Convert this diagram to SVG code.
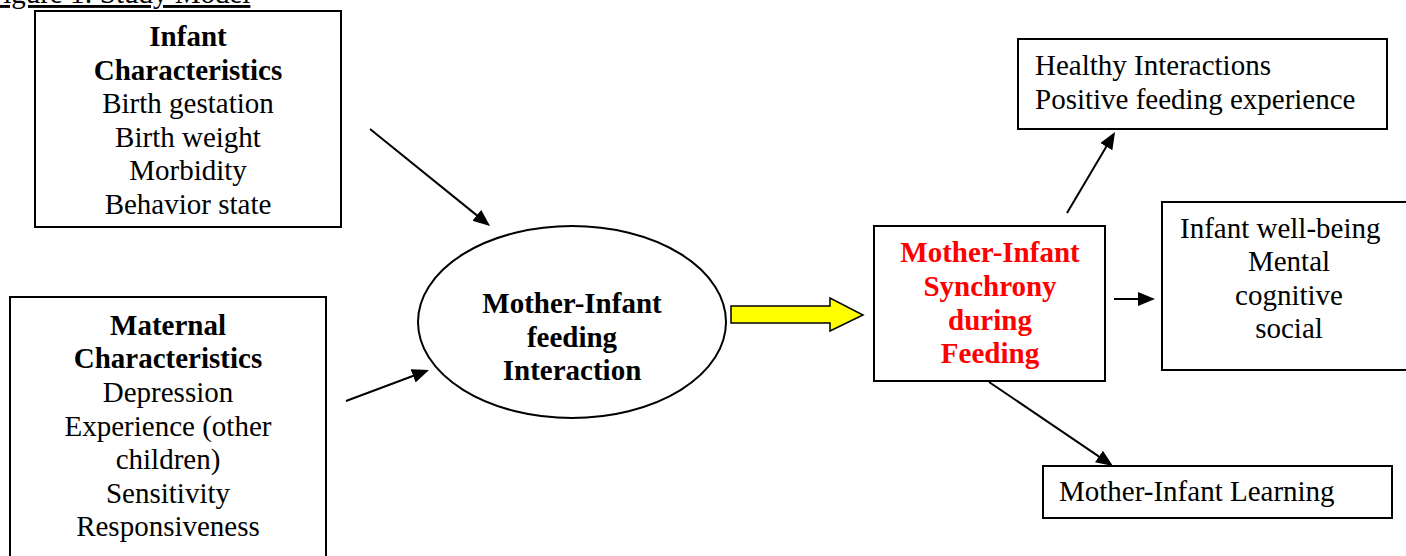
<svg xmlns="http://www.w3.org/2000/svg" width="1406" height="556" viewBox="0 0 1406 556">
<style>
.box{fill:#fff;stroke:#000;stroke-width:2}
.t{font-family:"Liberation Serif","Times New Roman",serif;font-size:29px;fill:#000}
.b{font-weight:bold}
.c{text-anchor:middle}
.red{fill:#ff0000}
.ln{stroke:#000;stroke-width:2;fill:none;marker-end:url(#ah)}
</style>
<defs>
<marker id="ah" markerUnits="userSpaceOnUse" markerWidth="18" markerHeight="15" refX="14" refY="7" orient="auto">
<path d="M0,0 L17,7 L0,14 z" fill="#000"/>
</marker>
</defs>
<rect width="1406" height="556" fill="#fff"/>
<text class="t" x="-13" y="3" text-decoration="underline">Figure 1: Study Model</text>
<g id="infant">
<rect class="box" x="35" y="11" width="306" height="216"/>
<text class="t b c" x="188" y="46">Infant</text>
<text class="t b c" x="188" y="80">Characteristics</text>
<text class="t c" x="188" y="113">Birth gestation</text>
<text class="t c" x="188" y="147">Birth weight</text>
<text class="t c" x="188" y="180">Morbidity</text>
<text class="t c" x="188" y="214">Behavior state</text>
</g>
<g id="maternal">
<rect class="box" x="10" y="297" width="316" height="280"/>
<text class="t b c" x="168" y="335">Maternal</text>
<text class="t b c" x="168" y="368">Characteristics</text>
<text class="t c" x="168" y="402">Depression</text>
<text class="t c" x="168" y="436">Experience (other</text>
<text class="t c" x="168" y="469">children)</text>
<text class="t c" x="168" y="503">Sensitivity</text>
<text class="t c" x="168" y="536">Responsiveness</text>
</g>
<g id="interaction">
<ellipse cx="572" cy="322" rx="154" ry="96" fill="#fff" stroke="#000" stroke-width="2"/>
<text class="t b c" x="572" y="313">Mother-Infant</text>
<text class="t b c" x="572" y="347">feeding</text>
<text class="t b c" x="572" y="380">Interaction</text>
</g>
<g id="synchrony">
<rect class="box" x="874" y="226" width="231" height="155"/>
<text class="t b c red" x="990" y="262">Mother-Infant</text>
<text class="t b c red" x="990" y="296">Synchrony</text>
<text class="t b c red" x="990" y="330">during</text>
<text class="t b c red" x="990" y="363">Feeding</text>
</g>
<g id="healthy">
<rect class="box" x="1018" y="39" width="369" height="90"/>
<text class="t" x="1035" y="75">Healthy Interactions</text>
<text class="t" x="1035" y="109">Positive feeding experience</text>
</g>
<g id="wellbeing">
<rect class="box" x="1162" y="202" width="260" height="168"/>
<text class="t" x="1180" y="238">Infant well-being</text>
<text class="t c" x="1289" y="271">Mental</text>
<text class="t c" x="1289" y="305">cognitive</text>
<text class="t c" x="1289" y="338">social</text>
</g>
<g id="learning">
<rect class="box" x="1043" y="466" width="349" height="52"/>
<text class="t" x="1059" y="501">Mother-Infant Learning</text>
</g>
<g id="connectors">
<line class="ln" x1="370" y1="129" x2="487.7" y2="224.1"/>
<line class="ln" x1="346" y1="401" x2="426.2" y2="371"/>
<polygon points="731,306 830,306 830,298 863,315 830,331 830,323 731,323" fill="#ffff00" stroke="#000" stroke-width="1.5"/>
<line class="ln" x1="1067" y1="213" x2="1113.5" y2="134.6"/>
<line class="ln" x1="1114" y1="299" x2="1152" y2="299"/>
<line class="ln" x1="989" y1="382" x2="1110.5" y2="464.3"/>
</g>
</svg>
